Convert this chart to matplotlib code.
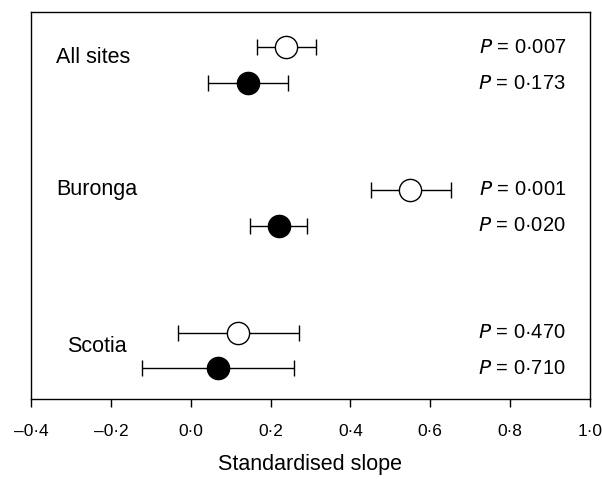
import matplotlib.pyplot as plt

plt.rcParams['font.family'] = ['Liberation Sans', 'DejaVu Sans']

# Data (standardised slopes with CI)
sites = ["All sites", "Buronga", "Scotia"]
open_mean = [0.239, 0.549, 0.119]
open_low = [0.165, 0.451, -0.031]
open_high = [0.313, 0.652, 0.270]
filled_mean = [0.143, 0.221, 0.069]
filled_low = [0.043, 0.148, -0.121]
filled_high = [0.244, 0.291, 0.259]
p_open = ["0·007", "0·001", "0·470"]
p_filled = ["0·173", "0·020", "0·710"]
tick_vals = [-0.4, -0.2, 0.0, 0.2, 0.4, 0.6, 0.8, 1.0]
tick_labels = ["–0·4", "–0·2", "0·0", "0·2", "0·4", "0·6", "0·8", "1·0"]

group_y = [2, 1, 0]
off = 0.126
label_dy = [0.05, 0.126, 0.03]
label_x = [-0.337, -0.337, -0.309]

fig = plt.figure(figsize=(6.02, 4.79), dpi=100)
ax = fig.add_axes([31 / 602, 1 - 399 / 479, 559 / 602, 387 / 479])

for i in range(3):
    yo = group_y[i] + off
    yf = group_y[i] - off
    ax.errorbar(open_mean[i], yo,
                xerr=[[open_mean[i] - open_low[i]], [open_high[i] - open_mean[i]]],
                fmt='o', mfc='white', mec='black', mew=1, ms=16,
                ecolor='black', elinewidth=1, capsize=6, capthick=1, zorder=3)
    ax.errorbar(filled_mean[i], yf,
                xerr=[[filled_mean[i] - filled_low[i]], [filled_high[i] - filled_mean[i]]],
                fmt='o', mfc='black', mec='black', mew=1, ms=16,
                ecolor='black', elinewidth=1, capsize=6, capthick=1, zorder=3)
    ax.text(label_x[i], group_y[i] + label_dy[i], sites[i],
            fontsize=15.5, ha='left', va='center')
    ax.text(0.94, yo, "$\\it{P}$ = " + p_open[i], fontsize=14.5,
            ha='right', va='center')
    ax.text(0.94, yf, "$\\it{P}$ = " + p_filled[i], fontsize=14.5,
            ha='right', va='center')

ax.set_xlim(-0.4, 1.0)
ax.set_ylim(-0.34, 2.372)
ax.set_xticks(tick_vals)
ax.set_xticklabels(tick_labels, fontsize=12.5)
ax.set_yticks([])
ax.tick_params(axis='x', direction='out', length=6, width=1, pad=12)
for s in ax.spines.values():
    s.set_linewidth(1)
ax.set_xlabel("Standardised slope", fontsize=15.5, labelpad=11)

fig.savefig("out.png", dpi=100)
